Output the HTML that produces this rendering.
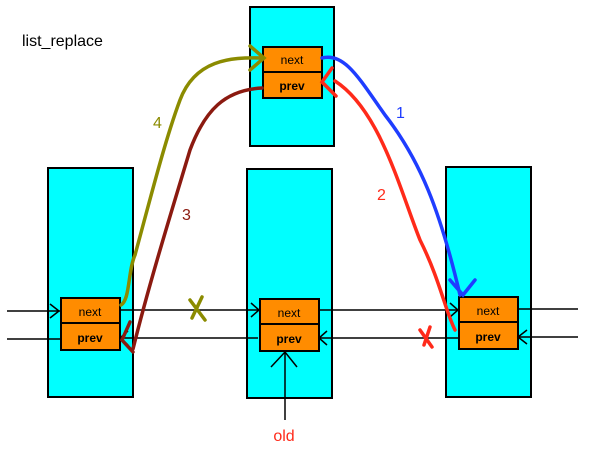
<!DOCTYPE html>
<html><head><meta charset="utf-8"><style>
body{margin:0;background:#fff}
svg{display:block}
text{font-family:"Liberation Sans",sans-serif}
</style></head><body>
<svg width="610" height="450" viewBox="0 0 610 450">
<text x="22" y="46" font-size="16" fill="#000">list_replace</text>
<g stroke="#000" stroke-width="2">
<rect x="250" y="7" width="84" height="139" fill="#00ffff"/>
<rect x="48" y="168" width="85" height="229" fill="#00ffff"/>
<rect x="247" y="169" width="85" height="229" fill="#00ffff"/>
<rect x="446" y="167" width="85" height="230" fill="#00ffff"/>
<rect x="263" y="47" width="59" height="25" fill="#ff8c00"/>
<rect x="263" y="72" width="59" height="26" fill="#ff8c00"/>
<rect x="61" y="298" width="59" height="25" fill="#ff8c00"/>
<rect x="61" y="323" width="59" height="27" fill="#ff8c00"/>
<rect x="260" y="299" width="59" height="25" fill="#ff8c00"/>
<rect x="260" y="324" width="59" height="27" fill="#ff8c00"/>
<rect x="459" y="297" width="59" height="25" fill="#ff8c00"/>
<rect x="459" y="322" width="59" height="27" fill="#ff8c00"/>
</g>
<g font-size="12" fill="#000" text-anchor="middle">
<text x="292" y="64">next</text><text x="292" y="90" font-weight="bold">prev</text>
<text x="90" y="316">next</text><text x="90" y="342" font-weight="bold">prev</text>
<text x="289" y="317">next</text><text x="289" y="343" font-weight="bold">prev</text>
<text x="488" y="315">next</text><text x="488" y="341" font-weight="bold">prev</text>
</g>
<g stroke="#000" stroke-width="1.5" fill="none">
<path d="M7 311H60M50 304L59 311L50 318"/>
<path d="M7 339H61"/>
<path d="M120 310H259M251 303L259 310L251 317"/>
<path d="M120 338H258M128 331L120 338L128 345"/>
<path d="M319 310H458M450 303L458 310L450 317"/>
<path d="M319 338H458M327 331L319 338L327 345"/>
<path d="M518 309H578"/>
<path d="M518 337H578M527 330L518 337L527 344"/>
<path d="M285 420V352M271 367L285 352L297 367"/>
</g>
<text x="284" y="441" font-size="16" fill="#ff2a1a" text-anchor="middle">old</text>
<g fill="none" stroke-width="3.5" stroke-linecap="round">
<path d="M322 58C345 52 360 80 385 115C420 160 440 210 460 295M450 280L463 295L475 280" stroke="#1f3dff"/>
<path d="M455 330C445 310 440 280 420 240C400 190 380 110 335 81M332 68L322 82L336 96" stroke="#ff2a1a"/>
<path d="M133 349C150 280 175 200 190 150C205 110 225 90 262 88M130 322L122 340L133 352" stroke="#8b1a10"/>
<path d="M121 305C130 300 128 270 135 255C150 200 165 140 180 100C195 60 230 57 262 58M250 46L264 58L250 70" stroke="#8b8b00"/>
<path d="M190 300L205 320M202 297L192 318" stroke="#8b8b00"/>
<path d="M420 330L432 347M430 327L424 345" stroke="#ff2a1a"/>
</g>
<g font-size="16">
<text x="396" y="118" fill="#1f3dff">1</text>
<text x="377" y="200" fill="#ff2a1a">2</text>
<text x="182" y="220" fill="#8b1a10">3</text>
<text x="153" y="128" fill="#8b8b00">4</text>
</g>
</svg>
</body></html>
